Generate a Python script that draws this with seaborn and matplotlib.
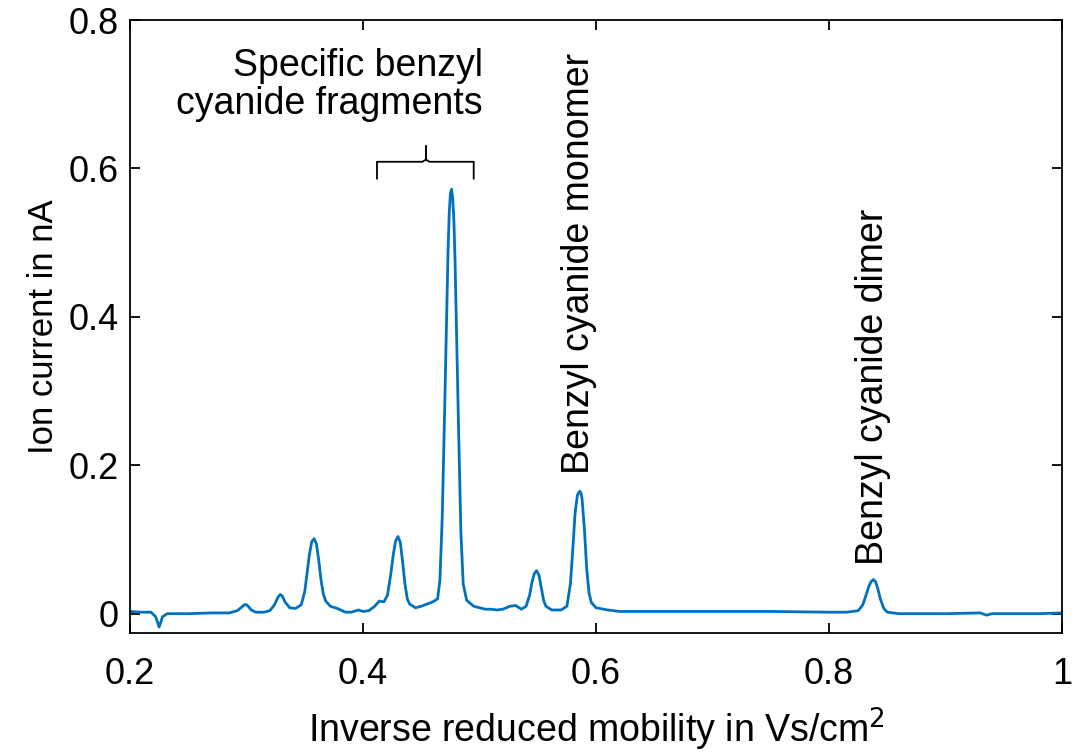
import matplotlib
matplotlib.use("Agg")
import matplotlib.pyplot as plt
import seaborn as sns
import pandas as pd

# Spectrum (inverse reduced mobility, ion current)
mobility = [0.200, 0.210, 0.218, 0.222, 0.225, 0.228, 0.232, 0.250, 0.270, 0.285,
            0.292, 0.296, 0.298, 0.300, 0.302, 0.304, 0.308, 0.315, 0.320, 0.324,
            0.327, 0.329, 0.331, 0.333, 0.337, 0.342, 0.347, 0.350, 0.352, 0.354,
            0.356, 0.358, 0.360, 0.362, 0.364, 0.366, 0.368, 0.372, 0.378, 0.385,
            0.390, 0.396, 0.400, 0.405, 0.410, 0.414, 0.418, 0.421, 0.424, 0.426,
            0.428, 0.430, 0.432, 0.434, 0.436, 0.438, 0.440, 0.445, 0.450, 0.455,
            0.460, 0.464, 0.466, 0.468, 0.470, 0.472, 0.473, 0.474, 0.475, 0.476,
            0.477, 0.478, 0.479, 0.480, 0.482, 0.484, 0.486, 0.489, 0.495, 0.500,
            0.505, 0.510, 0.515, 0.520, 0.526, 0.531, 0.536, 0.540, 0.543, 0.545,
            0.547, 0.549, 0.551, 0.553, 0.555, 0.557, 0.562, 0.570, 0.575, 0.578,
            0.580, 0.582, 0.584, 0.586, 0.587, 0.588, 0.590, 0.592, 0.594, 0.596,
            0.600, 0.610, 0.620, 0.650, 0.700, 0.750, 0.800, 0.815, 0.825, 0.829,
            0.832, 0.834, 0.836, 0.838, 0.840, 0.842, 0.844, 0.847, 0.850, 0.860,
            0.900, 0.930, 0.935, 0.940, 0.980, 1.000]
current = [0.003, 0.002, 0.002, -0.004, -0.018, -0.004, 0.000, 0.000, 0.001, 0.001,
           0.004, 0.009, 0.012, 0.012, 0.009, 0.005, 0.002, 0.002, 0.004, 0.012,
           0.022, 0.026, 0.023, 0.016, 0.008, 0.007, 0.012, 0.030, 0.055, 0.080,
           0.097, 0.101, 0.094, 0.072, 0.045, 0.026, 0.017, 0.010, 0.007, 0.002,
           0.002, 0.005, 0.003, 0.004, 0.010, 0.017, 0.016, 0.025, 0.055, 0.080,
           0.098, 0.104, 0.096, 0.070, 0.040, 0.020, 0.013, 0.008, 0.010, 0.013,
           0.016, 0.020, 0.045, 0.130, 0.270, 0.420, 0.490, 0.540, 0.566, 0.572,
           0.560, 0.530, 0.475, 0.400, 0.250, 0.110, 0.040, 0.018, 0.010, 0.008,
           0.006, 0.006, 0.005, 0.006, 0.010, 0.011, 0.006, 0.010, 0.025, 0.042,
           0.054, 0.058, 0.052, 0.035, 0.018, 0.010, 0.005, 0.005, 0.010, 0.040,
           0.085, 0.135, 0.160, 0.165, 0.163, 0.155, 0.115, 0.060, 0.028, 0.015,
           0.008, 0.005, 0.003, 0.003, 0.003, 0.003, 0.002, 0.002, 0.004, 0.012,
           0.026, 0.036, 0.043, 0.046, 0.043, 0.033, 0.020, 0.007, 0.002, 0.000,
           0.000, 0.001, -0.002, 0.000, 0.000, 0.001]

x_ticks = [0.2, 0.4, 0.6, 0.8, 1.0]
x_tick_labels = ["0.2", "0.4", "0.6", "0.8", "1"]
y_ticks = [0.0, 0.2, 0.4, 0.6, 0.8]
y_tick_labels = ["0", "0.2", "0.4", "0.6", "0.8"]

sns.set_style("ticks")
plt.rcParams["font.family"] = ["Liberation Sans", "DejaVu Sans"]
plt.rcParams["text.color"] = "black"
plt.rcParams["axes.labelcolor"] = "black"

df = pd.DataFrame({"mobility": mobility, "current": current})

fig = plt.figure(figsize=(10.78, 7.53), dpi=100)
ax = fig.add_axes([0.1206, 0.1594, 0.8646, 0.8140])

sns.lineplot(data=df, x="mobility", y="current", ax=ax, color="#0072BD",
             linewidth=2.0, estimator=None, sort=True)

ax.set_xlim(0.2, 1.0)
ax.set_ylim(-0.026, 0.8)
ax.set_xticks(x_ticks)
ax.set_xticklabels(x_tick_labels)
ax.set_yticks(y_ticks)
ax.set_yticklabels(y_tick_labels)
ax.tick_params(direction="in", length=7, width=1.3, labelsize=26,
               top=True, right=True, colors="black", labelcolor="black")
ax.tick_params(axis="x", pad=17)
ax.tick_params(axis="y", pad=8)
for s in ax.spines.values():
    s.set_visible(True)
    s.set_linewidth(1.3)
    s.set_color("black")

ax.set_xlabel("Inverse reduced mobility in Vs/cm$^2$", fontsize=27, labelpad=10)
ax.set_ylabel("Ion current in nA", fontsize=25, labelpad=6)

# Annotations
ax.text(0.503, 0.724, "Specific benzyl", ha="right", va="baseline", fontsize=27)
ax.text(0.503, 0.674, "cyanide fragments", ha="right", va="baseline", fontsize=27)
# curly bracket
bx0, bx1, bxm = 0.412, 0.495, 0.454
ax.plot([bx0, bx0, bxm - 0.003, bxm, bxm, bxm, bxm + 0.003, bx1, bx1],
        [0.586, 0.609, 0.609, 0.612, 0.630, 0.612, 0.609, 0.609, 0.586],
        color="black", linewidth=1.3)

ax.text(0.5855, 0.188, "Benzyl cyanide monomer", rotation=90, ha="center",
        va="bottom", fontsize=27)
ax.text(0.8375, 0.066, "Benzyl cyanide dimer", rotation=90, ha="center",
        va="bottom", fontsize=27)

fig.savefig("out.png", dpi=100)
